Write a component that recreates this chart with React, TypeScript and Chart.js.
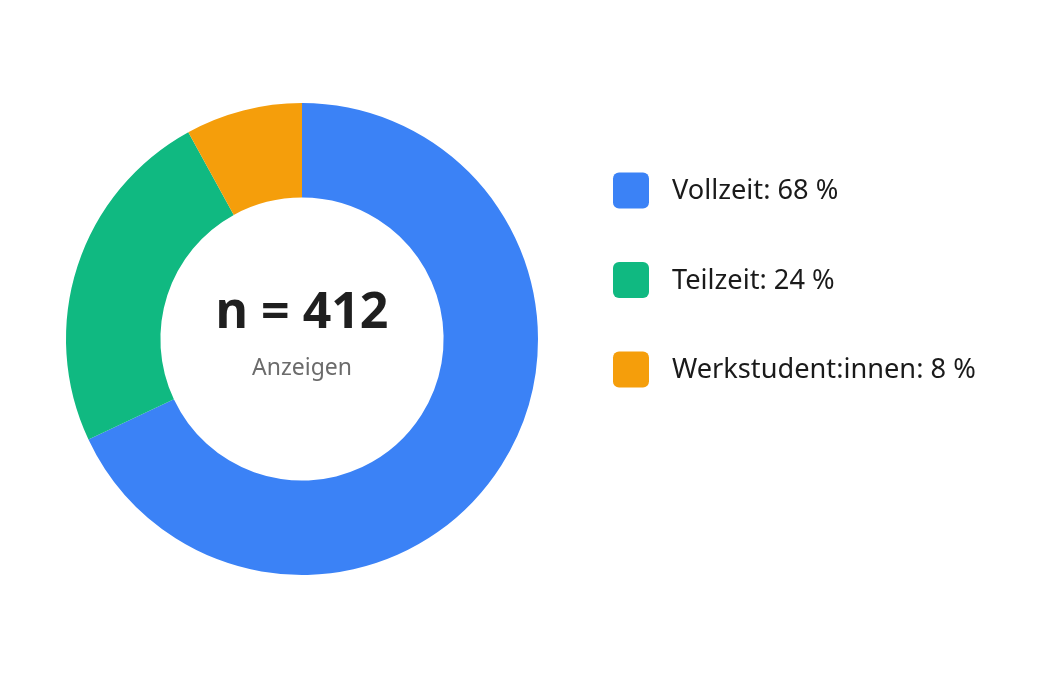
import React, { useEffect, useRef } from "react";
import { Chart, registerables } from "chart.js";

Chart.register(...registerables);

const categories = ["Vollzeit", "Teilzeit", "Werkstudent:innen"];
const shares = [68, 24, 8];
const colors = ["#3b82f6", "#10b981", "#f59e0b"];
const totalN = 412;
const centerSubLabel = "Anzeigen";

const FONT = "'Noto Sans', 'Open Sans', sans-serif";

const sidePlugin = {
  id: "sideLegendAndCenter",
  afterDraw(chart: any) {
    const ctx = chart.ctx;
    const meta = chart.getDatasetMeta(0);
    const arc = meta.data[0];
    if (!arc) return;
    const cx = arc.x;
    const cy = arc.y;
    ctx.save();
    // center text
    ctx.textAlign = "center";
    ctx.textBaseline = "alphabetic";
    ctx.fillStyle = "#1f1f1f";
    ctx.font = `bold 50px ${FONT}`;
    ctx.fillText(`n = ${totalN}`, cx, cy - 11);
    ctx.fillStyle = "#6b6b6b";
    ctx.font = `23px ${FONT}`;
    ctx.fillText(centerSubLabel, cx, cy + 36);

    // legend
    const ds = chart.data.datasets[0];
    const labels = chart.data.labels;
    const boxX = cx + 311;
    const box = 36;
    const step = 89.5;
    const y0 = cy - 148.5;
    ctx.textAlign = "left";
    ctx.textBaseline = "middle";
    ctx.font = `27.2px ${FONT}`;
    labels.forEach((lab: string, i: number) => {
      const yc = y0 + i * step;
      ctx.fillStyle = ds.backgroundColor[i];
      ctx.beginPath();
      (ctx as any).roundRect(boxX, yc - box / 2, box, box, 6);
      ctx.fill();
      ctx.fillStyle = "#1a1a1a";
      ctx.fillText(`${lab}: ${ds.data[i]} %`, boxX + box + 23, yc + 1);
    });
    ctx.restore();
  },
};

export default function App() {
  const ref = useRef<HTMLCanvasElement | null>(null);
  useEffect(() => {
    if (!ref.current) return;
    const chart = new Chart(ref.current, {
      type: "doughnut",
      data: {
        labels: categories,
        datasets: [
          {
            data: shares,
            backgroundColor: colors,
            borderColor: "#ffffff",
            borderWidth: 0,
          },
        ],
      },
      options: {
        animation: false,
        responsive: true,
        maintainAspectRatio: false,
        cutout: "60%",
        layout: { padding: { left: 58, top: 95, right: 493, bottom: 114 } },
        plugins: {
          legend: { display: false },
          tooltip: { enabled: false },
        },
      },
      plugins: [sidePlugin],
    });
    return () => chart.destroy();
  }, []);
  return (
    <div style={{ width: 1023, height: 681, position: "relative" }}>
      <canvas ref={ref} />
    </div>
  );
}
